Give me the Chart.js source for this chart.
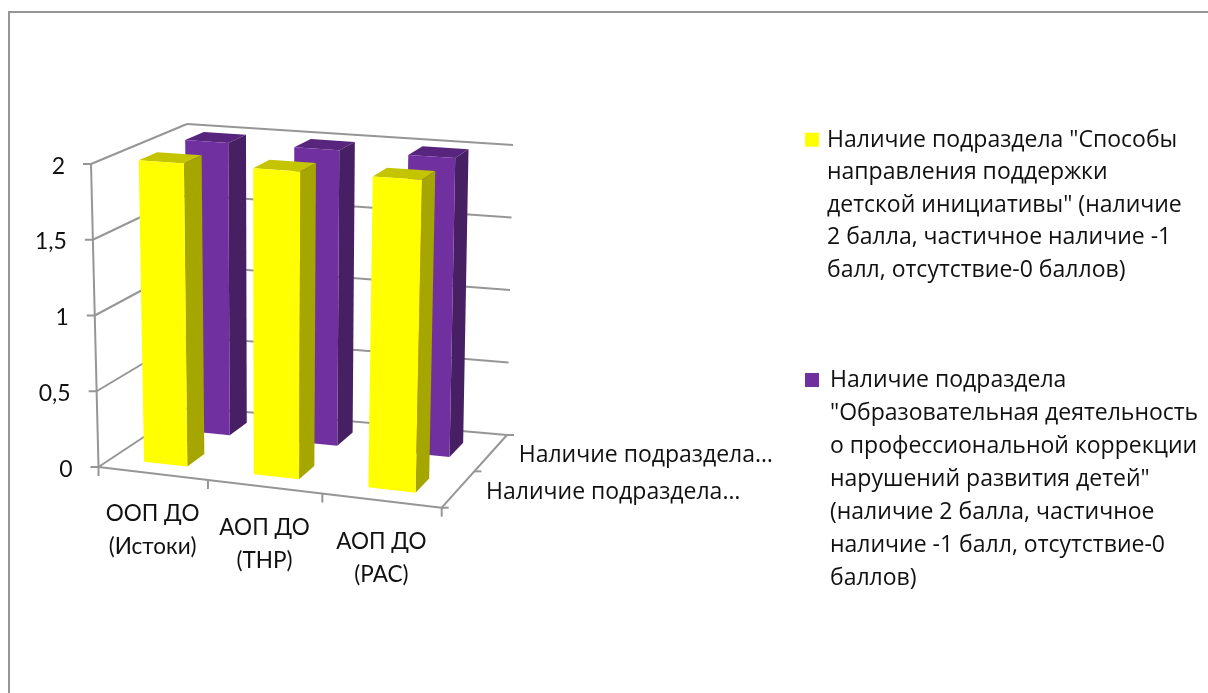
<!DOCTYPE html>
<html>
<head>
<meta charset="utf-8">
<style>
html, body { margin: 0; padding: 0; background: #fff; overflow: hidden; }
#wrap { position: relative; width: 1208px; height: 693px; }
#frame { position: absolute; left: 8px; top: 11px; width: 1200px; height: 682px; border-left: 2px solid #969696; border-top: 2px solid #969696; box-sizing: border-box; }
canvas { position: absolute; left: 0; top: 0; }
</style>
<script src="https://cdn.jsdelivr.net/npm/chart.js@4/dist/chart.umd.min.js"></script>
</head>
<body>
<div id="wrap">
<div id="frame"></div>
<canvas id="chart" width="1208" height="693"></canvas>
</div>
<script>
// данные диаграммы
var categories = [['ООП ДО', '(Истоки)'], ['АОП ДО', '(ТНР)'], ['АОП ДО', '(РАС)']];
var initiativeValues = [2, 2, 2];
var correctionValues = [2, 2, 2];
var valueTicks = [0, 0.5, 1, 1.5, 2];
var depthLabels = ['Наличие подраздела…', 'Наличие подраздела…'];
var initiativeLegend = ['Наличие подраздела "Способы', 'направления поддержки', 'детской инициативы" (наличие', '2 балла, частичное наличие -1', 'балл, отсутствие-0 баллов)'];
var correctionLegend = ['Наличие подраздела', '"Образовательная деятельность', 'о профессиональной коррекции', 'нарушений развития детей"', '(наличие 2 балла, частичное', 'наличие -1 балл, отсутствие-0', 'баллов)'];

var AXIS_FONT = 'Lato, sans-serif';
var TEXT_FONT = '"Open Sans", sans-serif';
var GRID = '#969696';
var DARK = '#111111';

// углы куба на экране: [u][d][v], u - категории, d - глубина, v - значение
var CUBE = {
    fbl: [98.5, 467], ftl: [91, 164], fbr: [441.7, 507.7], ftr: [450, 189],
    bbl: [189, 407], btl: [187, 124], bbr: [507, 435], btr: [513, 145]
};

function mix(a, b, t) {
    return [a[0] + (b[0] - a[0]) * t, a[1] + (b[1] - a[1]) * t];
}

function project(u, d, v) {
    // перспектива вдоль оси категорий
    var w = u - 0.065 * u * (1 - u);
    var front = mix(mix(CUBE.fbl, CUBE.fbr, w), mix(CUBE.ftl, CUBE.ftr, w), v);
    var back = mix(mix(CUBE.bbl, CUBE.bbr, w), mix(CUBE.btl, CUBE.btr, w), v);
    return mix(front, back, d);
}

function line(ctx, a, b) {
    ctx.beginPath();
    ctx.moveTo(a[0], a[1]);
    ctx.lineTo(b[0], b[1]);
    ctx.stroke();
}

function poly(ctx, pts, color) {
    ctx.fillStyle = color;
    ctx.beginPath();
    pts.forEach(function(p, i) {
        if (i === 0) ctx.moveTo(p[0], p[1]);
        else ctx.lineTo(p[0], p[1]);
    });
    ctx.closePath();
    ctx.fill();
}

function drawBox(ctx, u0, u1, d0, d1, v, colors) {
    poly(ctx, [project(u0, d0, v), project(u1, d0, v), project(u1, d1, v), project(u0, d1, v)], colors.top);
    poly(ctx, [project(u1, d0, 0), project(u1, d1, 0), project(u1, d1, v), project(u1, d0, v)], colors.side);
    poly(ctx, [project(u0, d0, 0), project(u1, d0, 0), project(u1, d0, v), project(u0, d0, v)], colors.front);
}

var box3d = {
    id: 'box3d',
    beforeDatasetsDraw: function() {
        return false;
    },
    afterDraw: function(chart) {
        var ctx = chart.ctx;
        var area = chart.chartArea;
        var xs = chart.scales.x;
        var ys = chart.scales.y;
        var toU = function(px) { return (px - area.left) / area.width; };
        var toV = function(px) { return (area.bottom - px) / area.height; };

        ctx.save();
        ctx.strokeStyle = GRID;
        ctx.lineWidth = 2;

        // стенки и сетка
        ys.ticks.forEach(function(t) {
            var v = toV(ys.getPixelForValue(t.value));
            var corner = project(0, 1, v);
            line(ctx, project(0, 0, v), corner);
            line(ctx, corner, project(1, 1, v));
            var p = project(0, 0, v);
            line(ctx, [p[0] - 8, p[1]], p);
        });
        line(ctx, project(0, 0, 0), project(0, 0, 1));
        line(ctx, project(0, 0, 0), project(1, 0, 0));
        line(ctx, project(1, 0, 0), project(1, 1, 0));

        // засечки категорий и глубины
        for (var k = 0; k <= categories.length; k++) {
            var q = project(k / categories.length, 0, 0);
            line(ctx, q, [q[0], q[1] + 9]);
        }
        for (var n = 0; n <= depthLabels.length; n++) {
            var r = project(1, n / depthLabels.length, 0);
            line(ctx, r, [r[0] + 7, r[1]]);
        }

        // столбцы: задний ряд, затем передний
        var depthBand = 1 / chart.data.datasets.length;
        var depthSize = 0.4 * depthBand;
        for (var s = chart.data.datasets.length - 1; s >= 0; s--) {
            var ds = chart.data.datasets[s];
            var d0 = (s + 0.5) * depthBand - depthSize / 2;
            chart.getDatasetMeta(s).data.forEach(function(el) {
                var half = el.width / 2;
                drawBox(ctx, toU(el.x - half), toU(el.x + half), d0, d0 + depthSize, toV(el.y), {
                    front: ds.backgroundColor, side: ds.sideColor, top: ds.topColor
                });
            });
        }

        // подписи значений
        ctx.fillStyle = DARK;
        ctx.textBaseline = 'alphabetic';
        ctx.textAlign = 'right';
        ctx.font = '23px ' + AXIS_FONT;
        ys.ticks.forEach(function(t) {
            var p = project(0, 0, toV(ys.getPixelForValue(t.value)));
            ctx.fillText(String(t.value).replace('.', ','), p[0] - 26, p[1] + 9.5);
        });

        // подписи категорий
        ctx.textAlign = 'center';
        ctx.font = '22.5px ' + AXIS_FONT;
        categories.forEach(function(lines, i) {
            var p = project(toU(xs.getPixelForValue(i)), 0, 0);
            lines.forEach(function(txt, j) {
                ctx.fillText(txt, p[0], p[1] + 48 + j * 33);
            });
        });

        // подписи рядов на оси глубины
        ctx.textAlign = 'left';
        ctx.font = '23px ' + TEXT_FONT;
        depthLabels.forEach(function(txt, i) {
            var p = project(1, (i + 0.5) * depthBand, 0);
            ctx.fillText(txt, p[0] + 28, p[1] + 9);
        });

        // легенда
        drawLegend(ctx, chart.data.datasets[0].backgroundColor, initiativeLegend, 805, 827, 146.7, 32.5);
        drawLegend(ctx, chart.data.datasets[1].backgroundColor, correctionLegend, 805, 830, 387, 33);
        ctx.restore();
    }
};

function drawLegend(ctx, color, lines, boxX, textX, firstY, step) {
    ctx.fillStyle = color;
    ctx.fillRect(boxX, firstY - 14, 14, 14);
    ctx.fillStyle = DARK;
    ctx.textAlign = 'left';
    ctx.font = '23px ' + TEXT_FONT;
    lines.forEach(function(txt, i) {
        ctx.fillText(txt, textX, firstY + i * step);
    });
}

Promise.all([document.fonts.load('21px Lato'), document.fonts.load('21px "Open Sans"')]).finally(function() {
    new Chart(document.getElementById('chart'), {
        type: 'bar',
        data: {
            labels: categories,
            datasets: [
                {
                    label: initiativeLegend.join(' '),
                    data: initiativeValues,
                    backgroundColor: '#ffff00',
                    sideColor: '#a6a600',
                    topColor: '#c4c400'
                },
                {
                    label: correctionLegend.join(' '),
                    data: correctionValues,
                    backgroundColor: '#7030a0',
                    sideColor: '#472063',
                    topColor: '#57257e'
                }
            ]
        },
        options: {
            responsive: false,
            animation: false,
            devicePixelRatio: 1,
            grouped: false,
            barPercentage: 0.4,
            categoryPercentage: 1,
            layout: { padding: { left: 90, right: 700, top: 160, bottom: 180 } },
            plugins: { legend: { display: false }, tooltip: { enabled: false } },
            scales: {
                x: { display: false },
                y: {
                    display: false,
                    min: 0,
                    max: 2,
                    afterBuildTicks: function(scale) {
                        scale.ticks = valueTicks.map(function(v) { return { value: v }; });
                    }
                }
            }
        },
        plugins: [box3d]
    });
});
</script>
</body>
</html>
